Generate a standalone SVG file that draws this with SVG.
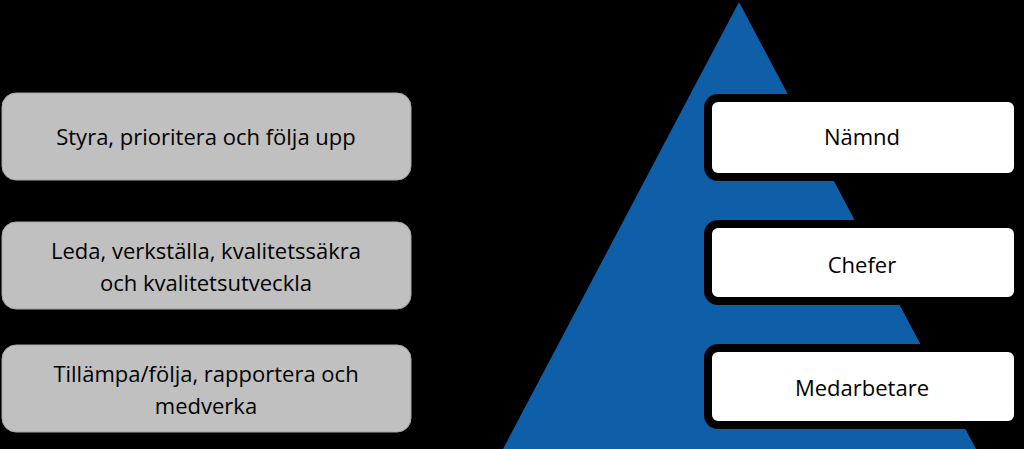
<svg xmlns="http://www.w3.org/2000/svg" width="1024" height="449" viewBox="0 0 1024 449">
<style>
.g{fill:#c0c0c0;stroke:#a6a6a6;stroke-width:1}
.w{fill:#fff;stroke:#000;stroke-width:8}
text{font-family:"Open Sans","Noto Sans",sans-serif;font-size:22px;fill:#000;text-anchor:middle}
</style>
<rect width="1024" height="449" fill="#000"/>
<polygon points="739,2 503,449 976,449" fill="#0f5fa8"/>
<g id="n1"><rect class="g" x="2" y="93" width="409" height="87" rx="14"/><text x="206" y="145">Styra, prioritera och följa upp</text></g>
<g id="n2"><rect class="g" x="2" y="222" width="409" height="87" rx="14"/><text x="206" y="259">Leda, verkställa, kvalitetssäkra</text><text x="206" y="291">och kvalitetsutveckla</text></g>
<g id="n3"><rect class="g" x="2" y="345" width="409" height="87" rx="14"/><text x="206" y="382">Tillämpa/följa, rapportera och</text><text x="206" y="414">medverka</text></g>
<g id="n4"><rect class="w" x="708" y="98" width="310" height="79" rx="10"/><text x="862" y="145">Nämnd</text></g>
<g id="n5"><rect class="w" x="708" y="224" width="310" height="77" rx="10"/><text x="862" y="273">Chefer</text></g>
<g id="n6"><rect class="w" x="708" y="348" width="310" height="77" rx="10"/><text x="862" y="396">Medarbetare</text></g>
<g id="connectors"/>
</svg>
